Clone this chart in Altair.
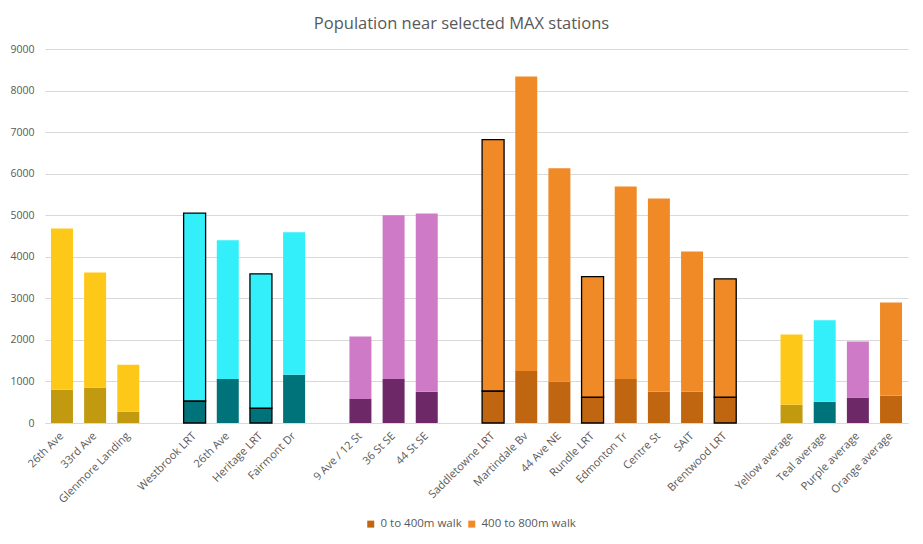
import altair as alt
import pandas as pd

# slots: 26 positions incl. 4 empty gaps between groups
labels = ["26th Ave", "33rd Ave", "Glenmore Landing", "",
          "Westbrook LRT", "26th Ave", "Heritage LRT", "Fairmont Dr", "",
          "9 Ave / 12 St", "36 St SE", "44 St SE", "",
          "Saddletowne LRT", "Martindale Bv", "44 Ave NE", "Rundle LRT",
          "Edmonton Tr", "Centre St", "SAIT", "Brentwood LRT", "",
          "Yellow average", "Teal average", "Purple average", "Orange average"]

slots = [0, 1, 2, 4, 5, 6, 7, 9, 10, 11, 13, 14, 15, 16, 17, 18, 19, 20, 22, 23, 24, 25]
groups = ["Y", "Y", "Y", "T", "T", "T", "T", "P", "P", "P",
          "O", "O", "O", "O", "O", "O", "O", "O", "Y", "T", "P", "O"]
near = [800, 850, 270, 530, 1060, 360, 1160, 580, 1060, 750,
        770, 1250, 990, 620, 1060, 750, 750, 620, 440, 510, 610, 660]
far = [3880, 2770, 1130, 4520, 3340, 3230, 3430, 1500, 3940, 4290,
       6050, 7090, 5140, 2900, 4630, 4650, 3380, 2850, 1690, 1960, 1350, 2240]
outlined = [0, 0, 0, 1, 0, 1, 0, 0, 0, 0,
            1, 0, 0, 1, 0, 0, 0, 1, 0, 0, 0, 0]

color_keys = ["Y0", "Y1", "T0", "T1", "P0", "P1", "O0", "O1"]
color_vals = ["#C19A10", "#FDC818", "#00737A", "#32EFFA",
              "#6D2867", "#CE7AC6", "#C06610", "#F08A26"]

rows = []
for s, g, n, f, o in zip(slots, groups, near, far, outlined):
    sw = 1.3 if o else 0
    rows.append({"slot": s, "key": g + "0", "lo": 0, "hi": n, "sw": sw})
    rows.append({"slot": s, "key": g + "1", "lo": n, "hi": n + f, "sw": sw})
df = pd.DataFrame(rows)

label_expr = "[" + ",".join("'" + l + "'" for l in labels) + "][datum.value]"

GRID = "#D9D9D9"
TXT = "#595959"

chart = alt.Chart(df).mark_bar().encode(
    x=alt.X("slot:O",
            scale=alt.Scale(domain=list(range(26)), paddingInner=0.337, paddingOuter=0.18),
            axis=alt.Axis(title=None, labelExpr=label_expr, labelAngle=-45,
                          labelAlign="right", labelBaseline="middle",
                          labelPadding=11, ticks=False, labelOverlap=False,
                          domainColor=GRID, domainWidth=1,
                          labelColor=TXT, labelFontSize=11)),
    y=alt.Y("lo:Q",
            scale=alt.Scale(domain=[0, 9000], nice=False),
            axis=alt.Axis(title=None, values=list(range(0, 9001, 1000)), format="d",
                          domain=False, ticks=False, grid=True, gridColor=GRID,
                          gridWidth=1, labelPadding=11, labelColor=TXT,
                          labelFontSize=10.5)),
    y2="hi:Q",
    color=alt.Color("key:N",
                    scale=alt.Scale(domain=color_keys, range=color_vals),
                    legend=alt.Legend(title=None, values=["O0", "O1"],
                                      labelExpr="datum.label == 'O0' ? '0 to 400m walk' : '400 to 800m walk'",
                                      orient="none", legendX=320, legendY=469,
                                      direction="horizontal", symbolType="square",
                                      symbolSize=49, symbolStrokeWidth=0,
                                      labelOffset=4, columnPadding=4,
                                      labelColor=TXT, labelFontSize=11.5, padding=0)),
    stroke=alt.value("black"),
    strokeWidth=alt.StrokeWidth("sw:Q", scale=None),
).properties(
    width=863,
    height=374,
    title=alt.TitleParams("Population near selected MAX stations", anchor="middle",
                          frame="group", fontSize=16.5, fontWeight="normal",
                          color=TXT, offset=12, dx=-15),
    autosize=alt.AutoSizeParams(type="none"),
    padding={"left": 37, "top": 41, "right": 7, "bottom": 113},
).configure(font="Open Sans").configure_view(strokeWidth=0)

chart.save("out.html", embed_options={"renderer": "svg", "actions": False})
